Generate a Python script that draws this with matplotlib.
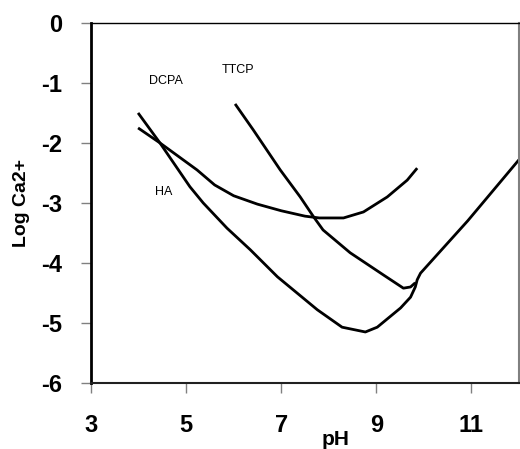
import matplotlib
matplotlib.use("Agg")
import matplotlib.pyplot as plt

plt.rcParams['font.family'] = ['Liberation Sans', 'DejaVu Sans']

# Data (pH vs Log Ca2+)
ha_ph = [3.99, 4.45, 5.08, 5.36, 5.86, 6.35, 6.92, 7.76, 8.28, 8.77, 9.02, 9.51, 9.72, 9.82, 9.86, 9.93, 10.92, 12.0]
ha_log = [-1.50, -2.00, -2.73, -3.00, -3.42, -3.78, -4.23, -4.78, -5.07, -5.15, -5.07, -4.75, -4.57, -4.40, -4.28, -4.17, -3.30, -2.28]

dcpa_ph = [3.99, 4.45, 5.23, 5.60, 6.00, 6.50, 7.00, 7.50, 7.80, 8.31, 8.73, 9.23, 9.65, 9.86]
dcpa_log = [-1.75, -2.00, -2.45, -2.70, -2.88, -3.02, -3.13, -3.22, -3.25, -3.25, -3.15, -2.90, -2.62, -2.42]

ttcp_ph = [6.03, 6.41, 6.98, 7.40, 7.68, 7.88, 8.45, 9.15, 9.57, 9.72, 9.82]
ttcp_log = [-1.35, -1.78, -2.45, -2.90, -3.23, -3.45, -3.83, -4.20, -4.42, -4.40, -4.33]

curve_labels = ["DCPA", "TTCP", "HA"]
label_pos = [(4.58, -0.97), (6.09, -0.78), (4.52, -2.82)]

x_ticks = [3, 5, 7, 9, 11]
y_ticks = [0, -1, -2, -3, -4, -5, -6]

fig = plt.figure(figsize=(5.2, 4.49), dpi=100)
ax = fig.add_axes([0.175, 0.147, 0.823, 0.802])

for xs, ys in [(ha_ph, ha_log), (dcpa_ph, dcpa_log), (ttcp_ph, ttcp_log)]:
    ax.plot(xs, ys, color='black', lw=2.0, solid_joinstyle='round', solid_capstyle='butt')

for lab, (lx, ly) in zip(curve_labels, label_pos):
    ax.text(lx, ly, lab, fontsize=9, ha='center', va='center')

ax.set_xlim(3, 12)
ax.set_ylim(-6, 0)
ax.set_xticks(x_ticks)
ax.set_yticks(y_ticks)
ax.set_xticklabels([str(t) for t in x_ticks], fontsize=17, fontweight='bold')
ax.set_yticklabels([str(t) for t in y_ticks], fontsize=17, fontweight='bold')
ax.tick_params(axis='both', direction='out', length=7, width=1, color='#808080')
ax.tick_params(axis='x', pad=15)
ax.tick_params(axis='y', pad=14)

ax.spines['left'].set_linewidth(2)
ax.spines['bottom'].set_linewidth(1.5)
ax.spines['top'].set_linewidth(1)
ax.spines['right'].set_linewidth(1.5)
ax.spines['right'].set_color('#808080')
ax.spines['bottom'].set_color('#202020')

ax.set_ylabel("Log Ca2+", fontsize=14, fontweight='bold', labelpad=8)
ax.text(8.15, -6.78, "pH", fontsize=15, fontweight='bold', ha='center', va='top')

fig.savefig("out.png", dpi=100)
